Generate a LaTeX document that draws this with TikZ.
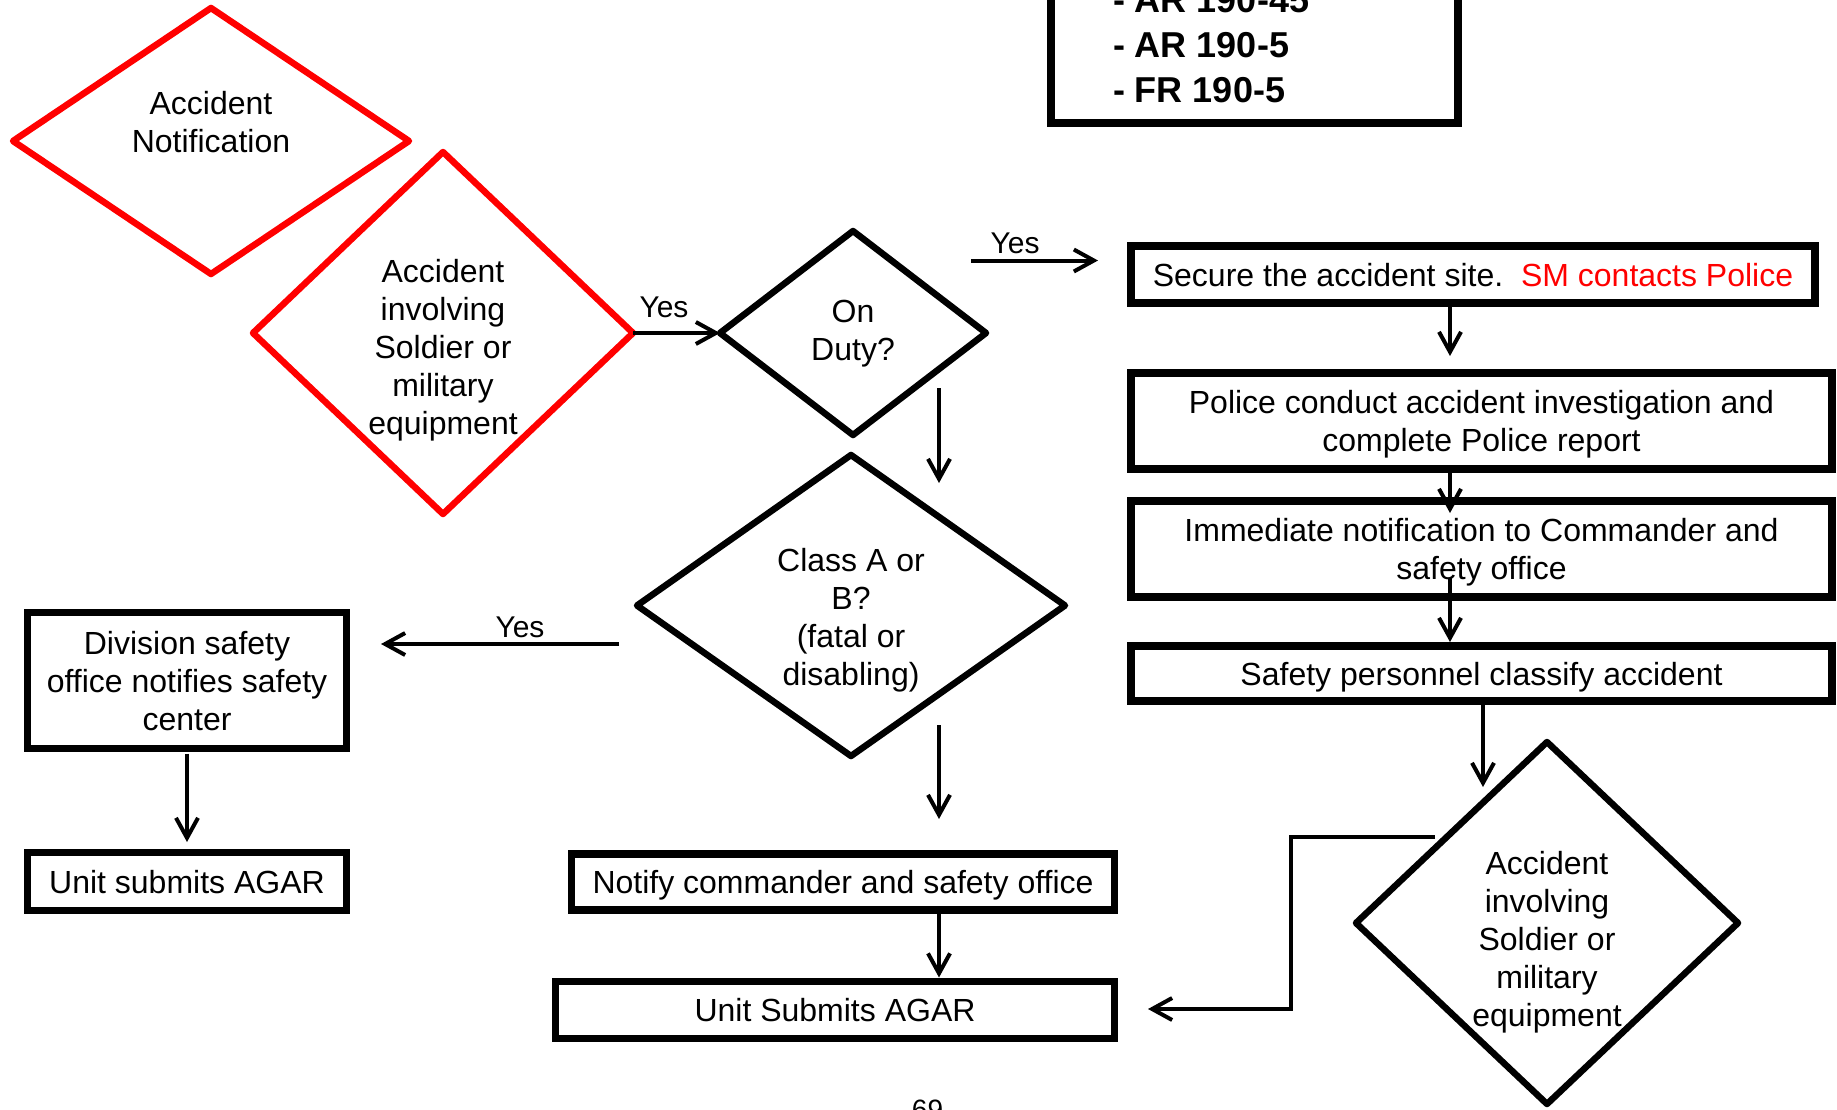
\documentclass[tikz,border=0pt]{standalone}
\usepackage{fontspec}
\setmainfont{Liberation Sans}
\usetikzlibrary{shapes.geometric,arrows.meta}
\definecolor{alertred}{RGB}{255,0,0}
% centred multi-line text whose baseline is the first line
\newcommand{\stack}[1]{\begin{tabular}[t]{@{}c@{}}#1\end{tabular}}
\begin{document}
\begin{tikzpicture}[x=0.5pt,y=-0.5pt,
  every node/.style={inner sep=0pt,outer sep=0pt,font=\fontsize{16pt}{19pt}\selectfont},
  box/.style={draw,rectangle,line width=3.75pt,text height=11.5pt,text depth=0pt},
  box2/.style={box,text depth=19pt},
  box3/.style={box,text depth=38pt},
  decision/.style={draw,diamond,aspect=1,line width=3.25pt,line join=round,text height=11.5pt},
  arr/.style={line width=2pt,-{Straight Barb[length=10pt,width=11pt]}},
  lbl/.style={anchor=base,font=\fontsize{15pt}{18pt}\selectfont},
]
\useasboundingbox (0,0) rectangle (1837,1109);

% ---- decisions ----
\node[decision,draw=alertred,minimum width=198pt,minimum height=133pt,text depth=38.5pt]
  (an) at (211,141) {\stack{Accident\\Notification}};
\node[decision,draw=alertred,minimum width=190pt,minimum height=181pt,text depth=62.5pt]
  (rd) at (443,333) {\stack{Accident\\involving\\Soldier or\\military\\equipment}};
\node[decision,minimum width=133pt,minimum height=102pt,text depth=22.5pt]
  (od) at (853,333) {\stack{On\\Duty?}};
\node[decision,minimum width=214pt,minimum height=150.5pt,text depth=46pt]
  (ca) at (851,605.5) {\stack{Class A or\\B?\\(fatal or\\disabling)}};
\node[decision,minimum width=191pt,minimum height=181pt,text depth=60.5pt]
  (rd2) at (1547,923) {\stack{Accident\\involving\\Soldier or\\military\\equipment}};

% ---- process boxes ----
\node[box,minimum width=203.5pt,minimum height=81.5pt] (ref) at (1254.5,41.5) {};
\node[anchor=base west,font=\fontsize{18pt}{22.5pt}\selectfont\bfseries]
  (reft) at (1113,12) {\begin{tabular}[t]{@{}l@{}}- AR 190-45\\- AR 190-5\\- FR 190-5\end{tabular}};

\node[box,minimum width=342pt,minimum height=28.5pt] (sec) at (1473,274.5)
  {Secure the accident site.\ \ \textcolor{alertred}{SM contacts Police}};
\node[box2,minimum width=350.5pt,minimum height=48pt] (pol) at (1481.5,421)
  {\stack{Police conduct accident investigation and\\complete Police report}};
\node[box2,minimum width=350.5pt,minimum height=48pt] (imm) at (1481.5,549)
  {\stack{Immediate notification to Commander and\\safety office}};
\node[box,minimum width=350.5pt,minimum height=27.5pt] (saf) at (1481.5,673.5)
  {Safety personnel classify accident};

\node[box3,minimum width=159.5pt,minimum height=68pt] (div) at (187,680.5)
  {\stack{Division safety\\office notifies safety\\center}};
\node[box,minimum width=159.5pt,minimum height=29pt] (ag1) at (187,881.5) {Unit submits AGAR};
\node[box,minimum width=271.5pt,minimum height=28pt] (nc) at (843,882) {Notify commander and safety office};
\node[box,minimum width=279.5pt,minimum height=28.5pt] (ag2) at (835,1010) {Unit Submits AGAR};

% ---- labels ----
\node[lbl] (yes1) at (664,317) {Yes};
\node[lbl] (yes2) at (1015,253) {Yes};
\node[lbl] (yes3) at (520,637) {Yes};
\node[anchor=base,font=\fontsize{14pt}{16pt}\selectfont] (pg) at (927.5,1119) {69};

% ---- connector ends ----
\coordinate (odA) at (939,388);   \coordinate (odB) at (939,483);
\coordinate (yA) at (971,260.5);  \coordinate (yB) at (1098,260.5);
\coordinate (xR) at (1450,0);     \coordinate (xS) at (1483,0);
\coordinate (secB) at (1450,356);
\coordinate (rdT) at (1483,787);
\coordinate (caA) at (619,644);   \coordinate (caB) at (381,644);
\coordinate (caC) at (939,725);   \coordinate (caD) at (939,819);
\coordinate (divB) at (187,842);
\coordinate (xN) at (939,0);
\coordinate (rdA) at (1435,837);  \coordinate (rdK) at (1291,837);
\coordinate (rdL) at (1291,1009); \coordinate (rdE) at (1148,1009);

% ---- connectors ----
\draw[arr] (rd.east) -- (od.west);
\draw[arr] (odA) -- (odB);
\draw[arr] (yA) -- (yB);
\draw[arr] ([yshift=-1pt]sec.south -| xR) -- (secB);
\draw[arr] (pol.south -| xR) -- ([yshift=-6pt]imm.north -| xR);
\draw[arr] ([yshift=9.5pt]imm.south -| xR) -- ([yshift=2pt]saf.north -| xR);
\draw[arr] ([yshift=-1.5pt]saf.south -| xS) -- (rdT);
\draw[arr] (caA) -- (caB);
\draw[arr] (caC) -- (caD);
\draw[arr] ([yshift=-2.5pt]div.south) -- (divB);
\draw[arr] ([yshift=-1.5pt]nc.south -| xN) -- ([yshift=2pt]ag2.north -| xN);
\draw[arr] (rdA) -- (rdK) -- (rdL) -- (rdE);
\end{tikzpicture}
\end{document}
